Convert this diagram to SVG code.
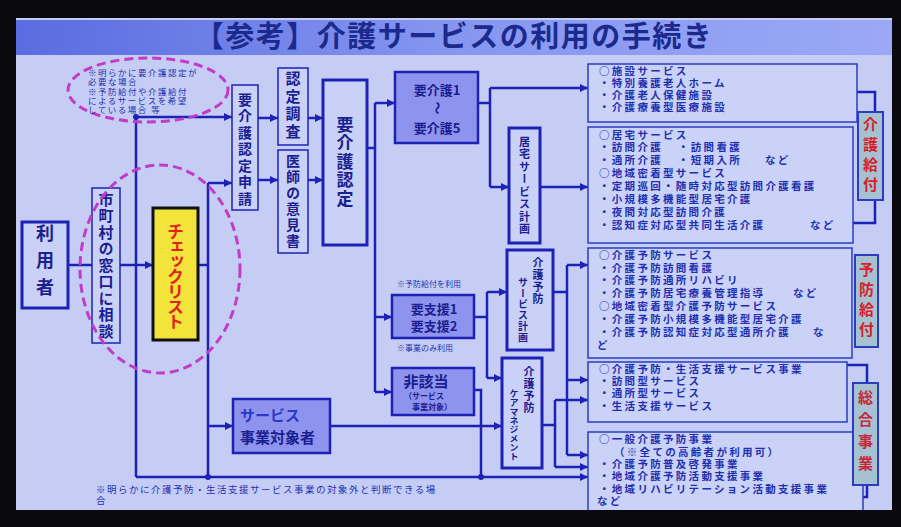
<svg xmlns="http://www.w3.org/2000/svg" width="901" height="527" viewBox="0 0 901 527">
<defs>
<linearGradient id="tg" x1="0" y1="0" x2="1" y2="0">
<stop offset="0" stop-color="#5a6ce0"/><stop offset="0.5" stop-color="#8696f0"/><stop offset="1" stop-color="#9aa8f6"/>
</linearGradient>
<marker id="ah" viewBox="0 0 10 10" refX="10" refY="5" markerWidth="8" markerHeight="8" markerUnits="userSpaceOnUse" orient="auto"><path d="M0,0 L10,5 L0,10 z" fill="#1e22b4"/></marker>
<style>
text{font-family:"Noto Sans CJK JP","Noto Sans",sans-serif;fill:#1a2090;font-weight:bold}
.v{writing-mode:vertical-rl;text-anchor:middle}
.box{fill:#c9d1f7;stroke:#1e22b4;stroke-width:1.5}
.tbox{fill:#c9d1f7;stroke:#1e22b4;stroke-width:3}
.fbox{fill:#8e93ee;stroke:#1e22b4;stroke-width:2.5}
.ln{fill:none;stroke:#1e22b4;stroke-width:2.5}
.ar{fill:none;stroke:#1e22b4;stroke-width:2.5;marker-end:url(#ah)}
.dot{fill:#1e22b4}
.ell{fill:none;stroke:#c23cc8;stroke-width:3;stroke-dasharray:9 5}
.rb{fill:#cad2f7;stroke:#2a3cc0;stroke-width:1.5}
.rt{font-size:10.5px;letter-spacing:2.3px;fill:#2230b0}
.tag{fill:#a6c2d2;stroke:#2a3cc0;stroke-width:2}
.tagt{font-size:15px;fill:#d8202a;writing-mode:vertical-rl;text-anchor:middle;letter-spacing:5px}
.sm{font-size:8px;font-weight:normal;fill:#2430b0}
.el{font-size:8.5px;font-weight:normal;fill:#2430b0;letter-spacing:1.5px}
</style>
</defs>
<rect x="0" y="0" width="901" height="527" fill="#0a0a0e"/>
<rect x="16" y="18" width="876" height="492" fill="#c5cdf5"/>
<rect x="16" y="20" width="876" height="35" fill="url(#tg)"/>
<text x="454" y="47" font-size="29" text-anchor="middle" letter-spacing="1.5" style="fill:#1b2a8c">【参考】介護サービスの利用の手続き</text>

<g id="connectors">
<path class="ln" d="M68,265 H92"/>
<path class="ar" d="M120,265 H153"/>
<path class="ln" d="M198,265 H208"/>
<path class="ln" d="M208,183 V477"/>
<path class="ar" d="M208,183 H232"/>
<path class="ar" d="M208,426 H233"/>
<path class="ln" d="M136,117 V477"/>
<path class="ar" d="M136,117 H232"/>
<path class="ar" d="M136,477 H588"/>
<path class="ar" d="M258,118 H278"/>
<path class="ar" d="M258,180 H278"/>
<path class="ar" d="M308,118 H323"/>
<path class="ar" d="M308,180 H323"/>
<path class="ln" d="M367,148 H375"/>
<path class="ln" d="M375,103 V392"/>
<path class="ar" d="M375,103 H395"/>
<path class="ar" d="M375,317 H392"/>
<path class="ar" d="M375,392 H392"/>
<path class="ln" d="M478,103 H490"/>
<path class="ln" d="M490,88 V187"/>
<path class="ar" d="M490,88 H588"/>
<path class="ar" d="M490,187 H509"/>
<path class="ar" d="M540,187 H588"/>
<path class="ln" d="M474,317 H487"/>
<path class="ln" d="M487,292 V378"/>
<path class="ar" d="M487,292 H507"/>
<path class="ar" d="M487,378 H502"/>
<path class="ln" d="M474,390 H481 V477"/>
<path class="ar" d="M330,426 H502"/>
<path class="ln" d="M553,292 H567"/>
<path class="ln" d="M567,265 V455"/>
<path class="ar" d="M567,265 H588"/>
<path class="ar" d="M567,380 H588"/>
<path class="ar" d="M567,455 H588"/>
<path class="ln" d="M542,425 H555"/>
<path class="ln" d="M555,400 V467"/>
<path class="ar" d="M555,400 H588"/>
<path class="ar" d="M555,467 H588"/>
<path class="ln" d="M857,92 H875 V112 M875,200 V223 H853"/>
<path class="ln" d="M847,365 H867 V383 M867,485 V497 H863"/>
<circle class="dot" cx="136" cy="117" r="3"/>
<circle class="dot" cx="208" cy="477" r="3"/>
<circle class="dot" cx="481" cy="477" r="3"/>
</g>

<g id="note-top">
<ellipse class="ell" cx="148" cy="90" rx="80" ry="32"/>
<text class="el" x="88" y="76">※明らかに要介護認定が</text>
<text class="el" x="88" y="85">必要な場合</text>
<text class="el" x="88" y="95">※予防給付や介護給付</text>
<text class="el" x="88" y="104">によるサービスを希望</text>
<text class="el" x="88" y="113">している場合 等</text>
</g>

<g id="riyousha">
<rect class="tbox" x="22" y="222" width="46" height="86"/>
<text class="v" x="45" y="265" font-size="18" letter-spacing="9">利用者</text>
</g>
<g id="madoguchi">
<rect class="box" x="92" y="188" width="28" height="155"/>
<text class="v" x="106" y="266" font-size="15" letter-spacing="1.5">市町村の窓口に相談</text>
</g>
<g id="checklist">
<rect x="153" y="208" width="45" height="132" fill="#f2e43a" stroke="#111" stroke-width="3"/>
<text class="v" x="175.5" y="276" font-size="17" letter-spacing="-2" style="fill:#e2231a">チェックリスト</text>
</g>
<ellipse class="ell" cx="160" cy="269" rx="80" ry="104"/>

<g id="shinsei">
<rect class="box" x="232" y="85" width="26" height="125"/>
<text class="v" x="245" y="150" font-size="14" letter-spacing="2.5">要介護認定申請</text>
</g>
<g id="chousa">
<rect class="box" x="278" y="68" width="30" height="77"/>
<text class="v" x="293" y="106" font-size="15" letter-spacing="2.5">認定調査</text>
</g>
<g id="ikensho">
<rect class="box" x="278" y="150" width="30" height="103"/>
<text class="v" x="293" y="202" font-size="14" letter-spacing="2">医師の意見書</text>
</g>
<g id="nintei">
<rect class="tbox" x="323" y="80" width="44" height="165"/>
<text class="v" x="345" y="162" font-size="17" letter-spacing="1.5">要介護認定</text>
</g>
<g id="yokaigo">
<rect class="fbox" x="395" y="72" width="83" height="71" stroke-width="3"/>
<text x="437" y="95" font-size="13" text-anchor="middle">要介護1</text>
<text x="437" y="108" font-size="13" text-anchor="middle" transform="rotate(90 437 108)" dy="4">〜</text>
<text x="437" y="133" font-size="13" text-anchor="middle">要介護5</text>
</g>
<g id="kyotaku-keikaku">
<rect class="tbox" x="509" y="128" width="31" height="115"/>
<text class="v" x="524.5" y="186" font-size="11" letter-spacing="1.5">居宅サービス計画</text>
</g>
<g id="yoshien">
<text class="sm" x="397" y="287">※予防給付を利用</text>
<rect class="fbox" x="392" y="295" width="82" height="43"/>
<text x="434" y="314" font-size="13" text-anchor="middle">要支援1</text>
<text x="434" y="331" font-size="13" text-anchor="middle">要支援2</text>
<text class="sm" x="397" y="351">※事業のみ利用</text>
</g>
<g id="higaitou">
<rect class="fbox" x="392" y="368" width="82" height="47"/>
<text x="426" y="387" font-size="15" text-anchor="middle">非該当</text>
<text x="424" y="399" font-size="8" text-anchor="middle">（サービス</text>
<text x="432" y="410" font-size="8" text-anchor="middle">事業対象）</text>
</g>
<g id="jigyou-taishousha">
<rect class="fbox" x="233" y="399" width="97" height="54"/>
<text x="240" y="421" font-size="15" style="fill:#2a3ac8">サービス</text>
<text x="240" y="443" font-size="15">事業対象者</text>
</g>
<g id="yobou-keikaku">
<rect class="tbox" x="507" y="250" width="46" height="100"/>
<text class="v" x="538" y="281" font-size="11" letter-spacing="1">介護予防</text>
<text class="v" x="523" y="310" font-size="10" letter-spacing="1">サービス計画</text>
</g>
<g id="caremanagement">
<rect class="tbox" x="502" y="358" width="40" height="110"/>
<text class="v" x="529" y="390" font-size="11" letter-spacing="1">介護予防</text>
<text class="v" x="514" y="425" font-size="9">ケアマネジメント</text>
</g>

<g id="shisetsu">
<rect class="rb" x="588" y="64" width="269" height="58"/>
<text class="rt" x="599" y="75">○施設サービス</text>
<text class="rt" x="599" y="87">・特別養護老人ホーム</text>
<text class="rt" x="599" y="99">・介護老人保健施設</text>
<text class="rt" x="599" y="111">・介護療養型医療施設</text>
</g>
<g id="kyotaku">
<rect class="rb" x="588" y="127" width="265" height="116"/>
<text class="rt" x="599" y="139">○居宅サービス</text>
<text class="rt" x="599" y="151">・訪問介護<tspan x="678">・訪問看護</tspan></text>
<text class="rt" x="599" y="164">・通所介護<tspan x="678">・短期入所</tspan><tspan x="765">など</tspan></text>
<text class="rt" x="599" y="177">○地域密着型サービス</text>
<text class="rt" x="599" y="190">・定期巡回・随時対応型訪問介護看護</text>
<text class="rt" x="599" y="203">・小規模多機能型居宅介護</text>
<text class="rt" x="599" y="216">・夜間対応型訪問介護</text>
<text class="rt" x="599" y="229">・認知症対応型共同生活介護<tspan x="810">など</tspan></text>
</g>
<g id="yobou">
<rect class="rb" x="588" y="248" width="264" height="110"/>
<text class="rt" x="599" y="259">○介護予防サービス</text>
<text class="rt" x="599" y="272">・介護予防訪問看護</text>
<text class="rt" x="599" y="284">・介護予防通所リハビリ</text>
<text class="rt" x="599" y="297">・介護予防居宅療養管理指導<tspan x="793">など</tspan></text>
<text class="rt" x="599" y="310">○地域密着型介護予防サービス</text>
<text class="rt" x="599" y="323">・介護予防小規模多機能型居宅介護</text>
<text class="rt" x="599" y="336">・介護予防認知症対応型通所介護<tspan x="813">な</tspan></text>
<text class="rt" x="597" y="349">ど</text>
</g>
<g id="seikatsushien">
<rect class="rb" x="588" y="362" width="259" height="60"/>
<text class="rt" x="599" y="373">○介護予防・生活支援サービス事業</text>
<text class="rt" x="599" y="385">・訪問型サービス</text>
<text class="rt" x="599" y="397">・通所型サービス</text>
<text class="rt" x="599" y="410">・生活支援サービス</text>
</g>
<g id="ippan">
<rect class="rb" x="588" y="432" width="275" height="80"/>
<text class="rt" x="599" y="443">○一般介護予防事業</text>
<text class="rt" x="614" y="456">（※全ての高齢者が利用可）</text>
<text class="rt" x="599" y="468">・介護予防普及啓発事業</text>
<text class="rt" x="599" y="480">・地域介護予防活動支援事業</text>
<text class="rt" x="599" y="493">・地域リハビリテーション活動支援事業</text>
<text class="rt" x="597" y="505">など</text>
</g>
<g id="tag-kaigo">
<rect class="tag" x="858" y="112" width="25" height="88"/>
<text class="tagt" x="870.5" y="157">介護給付</text>
</g>
<g id="tag-yobou">
<rect class="tag" x="855" y="255" width="23" height="92"/>
<text class="tagt" x="866.5" y="302">予防給付</text>
</g>
<g id="tag-sougou">
<rect class="tag" x="853" y="383" width="25" height="102"/>
<text class="tagt" x="865.5" y="434" style="fill:#c8283a;letter-spacing:7px">総合事業</text>
</g>
<g id="footnote">
<text class="sm" x="96" y="493" letter-spacing="1.5" style="font-size:9.5px">※明らかに介護予防・生活支援サービス事業の対象外と判断できる場</text>
<text class="sm" x="96" y="504" style="font-size:9.5px">合</text>
</g>
<rect x="0" y="510" width="901" height="17" fill="#0a0a0e"/>
</svg>
